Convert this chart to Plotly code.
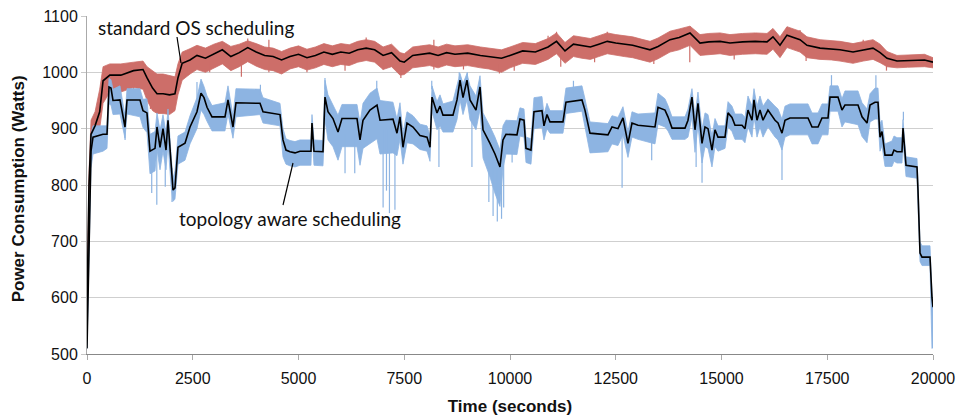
import plotly.graph_objects as go

# ---- standard OS scheduling (red) : time, running average, band above / below ----
red_t = [0, 47, 95, 190, 300, 380, 540, 800, 1100, 1324, 1420, 1550, 1655, 1800, 1950, 2080,
         2150, 2250, 2435, 2600, 2800, 3000, 3200, 3400, 3600, 3800, 4000, 4200, 4400, 4600,
         4800, 5000, 5200, 5400, 5600, 5800, 6000, 6200, 6400, 6600, 6800, 7000, 7200, 7400,
         7500, 7700, 7900, 8100, 8300, 8500, 8700, 9000, 9300, 9500, 9800, 10000, 10300, 10600,
         10900, 11100, 11300, 11500, 11700, 11900, 12100, 12300, 12500, 12700, 12900, 13100,
         13310, 13500, 13783, 14000, 14255, 14492, 14700, 14965, 15200, 15500, 15800, 16076,
         16217, 16383, 16548, 16856, 17021, 17329, 17600, 17801, 18109, 18350, 18582, 18750,
         18913, 19149, 19400, 19600, 19800, 20000]
red_avg = [580, 800, 890, 905, 930, 985, 995, 995, 1003, 1005, 990, 972, 962, 962, 960, 962,
           990, 1016, 1022, 1030, 1025, 1032, 1040, 1028, 1035, 1044, 1036, 1030, 1028, 1022,
           1028, 1032, 1026, 1030, 1036, 1032, 1036, 1034, 1040, 1043, 1040, 1030, 1035, 1020,
           1018, 1030, 1032, 1034, 1030, 1035, 1032, 1034, 1030, 1028, 1025, 1030, 1038, 1036,
           1045, 1055, 1038, 1050, 1047, 1045, 1050, 1055, 1052, 1050, 1048, 1044,
           1040, 1046, 1058, 1062, 1070, 1052, 1054, 1055, 1052, 1054, 1055, 1054,
           1063, 1048, 1066, 1058, 1048, 1043, 1042, 1040, 1036, 1040, 1043, 1035,
           1025, 1020, 1021, 1022, 1022, 1018]
red_up = [0, 20, 25, 25, 40, 25, 20, 20, 15, 15, 20, 30, 35, 35, 35, 30,
          25, 20, 20, 18, 18, 18, 15, 18, 15, 12, 15, 15, 15, 15,
          15, 15, 15, 15, 15, 15, 15, 15, 15, 15, 15, 15, 15, 15,
          15, 15, 15, 15, 15, 15, 15, 15, 15, 15, 15, 15, 15, 15,
          15, 15, 15, 15, 15, 15, 15, 15, 15, 15, 15, 15,
          15, 15, 15, 15, 12, 15, 15, 15, 15, 15, 15, 15,
          15, 15, 15, 15, 15, 15, 15, 15, 15, 15, 15, 15,
          12, 10, 10, 10, 10, 8]
red_dn = [0, 20, 25, 30, 30, 40, 30, 30, 30, 35, 40, 40, 35, 35, 35, 30,
          30, 30, 25, 25, 25, 25, 25, 25, 25, 25, 25, 25, 25, 25,
          22, 22, 22, 22, 22, 22, 22, 22, 22, 22, 22, 25, 25, 25,
          22, 22, 22, 22, 22, 22, 22, 22, 22, 22, 25, 22, 22, 22,
          22, 22, 22, 22, 22, 22, 22, 22, 22, 22, 22, 22,
          22, 22, 22, 22, 22, 22, 22, 22, 22, 22, 22, 22,
          22, 22, 22, 22, 22, 20, 20, 20, 20, 20, 20, 18,
          15, 12, 12, 12, 12, 10]
# isolated excursions beyond the band
red_spike_t = [1100, 1500, 2000, 2400, 2900, 3650, 3800, 4300, 4300, 5200, 6100, 6600, 7000,
               7420, 8200, 8200, 8900, 9750, 10100, 10900, 11100, 11200, 12000, 12300, 13400,
               14255, 14250, 15300, 16548, 16856, 17000, 18350, 18900]
red_spike_top = [990, 960, 950, 1020, 1020, 1025, 1060, 1045, 1058, 1020, 1025, 1062, 1020,
                 1010, 1020, 1058, 1025, 1015, 1025, 1065, 1072, 1035, 1035, 1072, 1035,
                 1082, 1050, 1040, 1080, 1075, 1035, 1058, 1020]
red_spike_low = [940, 935, 930, 995, 1000, 992, 1040, 1000, 1040, 1000, 1003, 1045, 1005,
                 990, 1005, 1040, 1005, 998, 1003, 1050, 1060, 1010, 1018, 1060, 1015,
                 1065, 1018, 1023, 1065, 1060, 1020, 1045, 1003]

# ---- topology aware scheduling (blue) ----
blue_t = [0, 47, 95, 142, 378, 473, 520, 567, 615, 780, 898, 946, 1253, 1324, 1418, 1489,
          1608, 1655, 1726, 1797, 1868, 1915, 1986, 2033, 2080, 2151, 2317, 2435, 2600, 2695,
          2766, 2837, 2955, 3262, 3333, 3451, 3522, 4090, 4161, 4563, 4633, 4704, 4799, 4917,
          5035, 5295, 5319, 5366, 5579, 5626, 5697, 5815, 5934, 6028, 6383, 6454, 6525, 6690,
          6856, 6927, 7234, 7328, 7399, 7470, 7565, 7707, 7872, 8038, 8109, 8156, 8274, 8345,
          8416, 8652, 8747, 8818, 8889, 8983, 9054, 9196, 9291, 9362, 9527, 9645, 9763, 9834,
          9905, 10165, 10236, 10331, 10378, 10496, 10567, 10756, 10803, 10874, 10945, 11252,
          11323, 11701, 11772, 11891, 12316, 12411, 12553, 12671, 12789, 12884, 13026, 13428,
          13499, 13664, 13735, 13830, 14137, 14208, 14302, 14373, 14444, 14539, 14610, 14681,
          14775, 14846, 14917, 15083, 15154, 15248, 15319, 15485, 15555, 15626, 15721, 15768,
          15839, 15910, 15981, 16099, 16265, 16336, 16430, 16501, 16619, 17045, 17140, 17282,
          17376, 17518, 17565, 17754, 17848, 17919, 18227, 18322, 18440, 18511, 18629, 18700,
          18747, 18794, 18865, 19031, 19078, 19149, 19267, 19291, 19362, 19622, 19645, 19693,
          19740, 19929, 19976, 20000]
blue_avg = [510, 700, 860, 885, 890, 890, 974, 972, 950, 951, 903, 951, 951, 932, 928, 860,
            865, 903, 867, 900, 862, 915, 830, 791, 795, 867, 874, 903, 930, 963,
            955, 938, 921, 921, 951, 903, 946, 945, 930, 925, 880, 862, 859, 857,
            860, 860, 910, 860, 859, 956, 930, 918, 894, 918, 918, 880, 915, 933,
            942, 915, 917, 892, 921, 867, 910, 903, 888, 885, 867, 956, 928, 940,
            924, 924, 951, 986, 955, 986, 951, 933, 974, 898, 874, 855, 832, 880,
            890, 889, 917, 915, 865, 862, 930, 932, 905, 925, 912, 912,
            947, 951, 933, 892, 889, 903, 900, 919, 874, 910, 906, 903,
            938, 933, 921, 901, 901, 915, 956, 898, 945, 874, 903, 900,
            862, 898, 885, 885, 928, 920, 906, 906, 900, 933, 915, 951,
            915, 933, 915, 933, 915, 910, 892, 915, 919, 919, 903, 903,
            919, 919, 956, 956, 933, 942, 942, 921, 910, 942, 947, 947,
            885, 895, 853, 853, 862, 859, 859, 901, 835, 832, 791, 679,
            672, 672, 600, 583]
blue_up = [0, 30, 30, 20, 15, 15, 15, 15, 20, 25, 20, 20, 20, 20, 25, 30,
           30, 25, 30, 25, 30, 20, 25, 20, 30, 20, 20, 20, 25, 25,
           20, 20, 20, 25, 25, 20, 25, 25, 25, 20, 20, 20, 20, 20,
           20, 20, 15, 20, 20, 30, 30, 25, 30, 25, 25, 30, 30, 30,
           30, 35, 30, 25, 25, 25, 20, 20, 20, 20, 20, 20, 20, 20,
           20, 25, 25, 12, 25, 12, 25, 25, 20, 30, 30, 30, 30, 25,
           25, 25, 20, 20, 20, 20, 25, 25, 20, 20, 20, 20,
           25, 25, 20, 20, 20, 20, 20, 20, 20, 20, 20, 25,
           25, 20, 20, 20, 20, 20, 15, 25, 20, 25, 25, 25,
           25, 20, 20, 20, 20, 20, 20, 20, 20, 25, 25, 20,
           25, 25, 25, 20, 25, 25, 25, 25, 25, 25, 25, 25,
           25, 25, 20, 20, 20, 25, 25, 25, 25, 20, 25, 25,
           25, 20, 20, 25, 25, 25, 25, 15, 15, 15, 15, 20,
           20, 20, 10, 0]
blue_dn = [0, 30, 30, 30, 30, 25, 30, 30, 25, 25, 20, 25, 30, 30, 35, 40,
           40, 40, 40, 40, 35, 40, 30, 20, 20, 30, 30, 30, 30, 30,
           30, 25, 25, 25, 25, 20, 25, 20, 20, 20, 30, 25, 25, 25,
           25, 25, 20, 25, 25, 40, 50, 50, 50, 50, 50, 45, 50, 60,
           60, 60, 60, 40, 40, 30, 35, 30, 25, 25, 25, 25, 30, 35,
           30, 30, 35, 35, 30, 35, 35, 35, 40, 50, 60, 70, 70, 50,
           35, 35, 30, 30, 25, 25, 30, 30, 25, 25, 20, 20,
           20, 20, 30, 35, 30, 30, 30, 30, 25, 25, 25, 30,
           30, 30, 25, 20, 20, 30, 35, 40, 40, 35, 35, 35,
           30, 30, 25, 20, 25, 25, 25, 25, 25, 30, 30, 30,
           30, 30, 30, 30, 30, 30, 30, 30, 30, 30, 30, 30,
           30, 30, 25, 25, 30, 30, 35, 35, 35, 30, 30, 30,
           25, 25, 20, 20, 20, 20, 20, 25, 20, 20, 15, 15,
           15, 15, 90, 70]
blue_spike_t = [900, 1530, 1650, 1850, 2010, 2600, 4100, 5626, 6100, 6330, 6850, 7000, 7080,
                7150, 7280, 8150, 8320, 8800, 8990, 9100, 9500, 9600, 9700, 9800, 9850, 10050,
                11500, 12650, 13350, 14400, 14540, 16430, 17600, 18650, 19300, 19990]
blue_spike_top = [930, 880, 870, 860, 830, 950, 960, 970, 890, 890, 965, 900, 900,
                  900, 900, 970, 910, 990, 990, 930, 850, 840, 830, 830, 860, 870,
                  970, 900, 890, 900, 880, 900, 975, 970, 915, 600]
blue_spike_low = [880, 786, 765, 797, 770, 983, 978, 990, 821, 821, 985, 760, 790,
                  750, 756, 985, 832, 1000, 1000, 832, 770, 745, 735, 740, 760, 840,
                  985, 795, 844, 832, 804, 809, 995, 995, 930, 510]

RED = "#CD6E69"
BLUE = "#8DB4E2"
X_TICKS = [0, 2500, 5000, 7500, 10000, 12500, 15000, 17500, 20000]
Y_TICKS = [500, 600, 700, 800, 900, 1000, 1100]


def band(t, avg, up, dn):
    hi = [a + u for a, u in zip(avg, up)]
    lo = [a - d for a, d in zip(avg, dn)]
    return list(t) + list(t[::-1]), hi + lo[::-1]


def spikes(t, top, low):
    xs, ys = [], []
    for ti, a, b in zip(t, top, low):
        xs += [ti, ti, None]
        ys += [a, b, None]
    return xs, ys


fig = go.Figure()

bx, by = band(red_t, red_avg, red_up, red_dn)
fig.add_trace(go.Scatter(x=bx, y=by, fill="toself", fillcolor=RED, mode="lines",
                         line=dict(color=RED, width=0.8), hoverinfo="skip"))
sx, sy = spikes(red_spike_t, red_spike_top, red_spike_low)
fig.add_trace(go.Scatter(x=sx, y=sy, mode="lines", line=dict(color=RED, width=1.2)))

bx, by = band(blue_t, blue_avg, blue_up, blue_dn)
fig.add_trace(go.Scatter(x=bx, y=by, fill="toself", fillcolor=BLUE, mode="lines",
                         line=dict(color=BLUE, width=0.8), hoverinfo="skip"))
sx, sy = spikes(blue_spike_t, blue_spike_top, blue_spike_low)
fig.add_trace(go.Scatter(x=sx, y=sy, mode="lines", line=dict(color=BLUE, width=1.2)))

fig.add_trace(go.Scatter(x=red_t, y=red_avg, mode="lines", line=dict(color="black", width=1.6)))
fig.add_trace(go.Scatter(x=blue_t, y=blue_avg, mode="lines", line=dict(color="black", width=1.6)))

sans = "Liberation Sans, Arial, sans-serif"
tick_font = dict(family=sans, size=16, color="#111")
label_font = dict(family="Lato, Calibri, sans-serif", size=19, color="#111")

fig.update_layout(
    width=958, height=416,
    margin=dict(l=87, r=25, t=16, b=62),
    paper_bgcolor="white", plot_bgcolor="white",
    showlegend=False,
    xaxis=dict(range=[0, 20000], tickvals=X_TICKS, ticktext=[str(v) for v in X_TICKS],
               ticks="outside", ticklen=5, tickcolor="#aaa", showline=True, linecolor="#888",
               showgrid=False, zeroline=False, tickfont=tick_font, ticklabelstandoff=5,
               automargin=False,
               title=dict(text="<b>Time (seconds)</b>", standoff=14,
                          font=dict(family=sans, size=17, color="#111"))),
    yaxis=dict(range=[500, 1100], tickvals=Y_TICKS, ticktext=[str(v) for v in Y_TICKS],
               ticks="outside", ticklen=5, tickcolor="#c8c8c8", showline=True, linecolor="#aaa",
               showgrid=True, gridcolor="#cfcfcf", gridwidth=1, zeroline=False, tickfont=tick_font,
               automargin=False),
    annotations=[
        dict(text="<b>Power Consumption (Watts)</b>", xref="paper", yref="paper",
             x=-0.0816, y=0.49, xanchor="center", yanchor="middle", textangle=-90,
             showarrow=False, font=dict(family=sans, size=17, color="#111")),
        dict(text="standard OS scheduling", xref="paper", yref="paper", x=0.1288, y=0.9645,
             xanchor="center", yanchor="middle", showarrow=False, font=label_font),
        dict(text="topology aware scheduling", xref="paper", yref="paper", x=0.240, y=0.402,
             xanchor="center", yanchor="middle", showarrow=False, font=label_font),
    ],
    shapes=[
        dict(type="line", xref="paper", yref="paper", x0=0.1064, y0=0.9379, x1=0.1111, y1=0.861,
             line=dict(color="black", width=1.2)),
        dict(type="line", xref="paper", yref="paper", x0=0.2317, y0=0.4408, x1=0.2435, y1=0.5651,
             line=dict(color="black", width=1.2)),
    ],
)

fig.write_html("out.html")
